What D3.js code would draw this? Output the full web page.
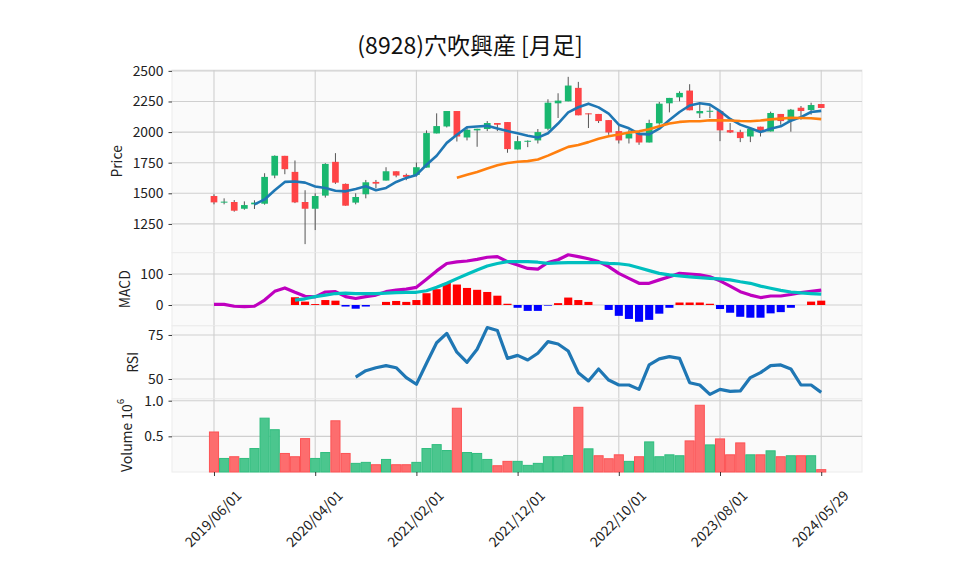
<!DOCTYPE html>
<html>
<head>
<meta charset="utf-8">
<script src="https://cdn.jsdelivr.net/npm/d3@7"></script>
<style>
body { margin: 0; background: #fff; }
text { font-family: "Noto Sans CJK JP", "Noto Sans", sans-serif; }
</style>
</head>
<body>
<svg id="chart" width="958" height="575"></svg>
<script>
// monthly bars, index 0 = 2019/06 ... index 60 = 2024/05/29
var opens  = [1478,1429,1429,1374,1410,1415,1645,1806,1675,1429,
              1374,1481,1757,1577,1424,1492,1593,1604,1680,1650,
              1650,1710,1989,2046,2172,1956,2014,2025,2074,2082,
              1858,1921,1932,2027,2235,2251,2361,2153,2148,2098,
              2008,1948,1989,1915,2071,2235,2284,2339,2153,2167,
              2172,2016,2000,1964,2044,2005,2148,2093,2199,2180,2229];
var highs  = [1492,1459,1445,1434,1443,1664,1810,1806,1768,1525,
              1500,1746,1828,1580,1500,1609,1609,1713,1680,1661,
              1751,2014,2153,2172,2172,2044,2027,2090,2074,2082,
              1967,1932,2025,2268,2317,2451,2410,2153,2148,2098,
              2060,2019,2003,2101,2246,2279,2333,2391,2238,2210,
              2172,2074,2019,2025,2044,2167,2148,2189,2213,2240,2229];
var lows   = [1410,1410,1350,1366,1372,1407,1623,1656,1420,1085,
              1200,1465,1577,1399,1410,1459,1541,1604,1631,1607,
              1637,1710,1989,2038,1923,1932,1880,2008,2008,1831,
              1858,1877,1907,2014,2115,2251,2137,2033,2074,1978,
              1907,1907,1896,1915,2060,2161,2251,2178,2115,2115,
              1926,1992,1918,1918,1964,2005,2060,2003,2101,2142,2197];
var closes = [1426,1432,1358,1404,1424,1634,1806,1697,1426,1374,
              1478,1740,1587,1399,1470,1590,1579,1680,1645,1634,
              1713,1992,2049,2172,1964,2019,2027,2074,2060,1861,
              1926,1929,2000,2240,2257,2380,2137,2145,2090,1997,
              1932,1989,1915,2074,2232,2279,2320,2178,2172,2174,
              2014,1997,1951,2025,2011,2156,2090,2183,2172,2221,2197];
// volume in millions of shares
var volumes = [0.561,0.190,0.214,0.190,0.329,0.755,0.593,0.260,0.214,0.468,
               0.190,0.273,0.718,0.260,0.121,0.135,0.102,0.176,0.102,0.102,
               0.135,0.329,0.384,0.301,0.894,0.273,0.260,0.176,0.088,0.149,
               0.149,0.093,0.121,0.214,0.214,0.232,0.907,0.325,0.228,0.186,
               0.241,0.149,0.214,0.422,0.214,0.241,0.228,0.436,0.936,0.380,
               0.464,0.241,0.408,0.241,0.241,0.297,0.214,0.228,0.228,0.228,0.033];
var ma5 = [null,null,null,null,1409,1450,1525,1593,1597,1587,
           1556,1543,1521,1516,1535,1557,1525,1544,1593,1626,
           1650,1733,1807,1912,1978,2039,2046,2051,2029,2008,
           1990,1970,1955,1991,2070,2161,2203,2232,2202,2150,
           2060,2031,1985,1981,2028,2098,2164,2217,2236,2224,
           2171,2107,2061,2032,2000,2028,2047,2093,2122,2164,2173];
var ma25 = [null,null,null,null,null,null,null,null,null,null,
            null,null,null,null,null,null,null,null,null,null,
            null,null,null,null,1627,1651,1674,1703,1729,1747,
            1758,1763,1776,1808,1843,1879,1895,1918,1945,1966,
            1980,1996,2006,2023,2047,2070,2083,2088,2088,2096,
            2096,2095,2090,2088,2094,2104,2110,2117,2115,2113,2106];
var macd = [2,2,-4,-5,-4,16,44,55,41,28,
            26,42,43,27,21,27,32,43,48,51,
            57,83,110,134,139,142,147,154,156,140,
            129,118,116,137,146,162,156,149,140,124,
            102,86,70,70,81,91,102,100,97,91,
            78,61,43,32,24,29,29,34,40,44,48];
var signal = [null,null,null,null,null,null,null,null,16,20,
              27,32,37,38,37,37,37,38,40,41,
              41,46,57,70,85,99,113,126,134,140,
              140,140,138,134,136,137,137,137,137,134,
              133,129,120,111,102,97,94,91,88,86,
              84,81,75,70,61,54,47,42,39,37,35];
var hist = [null,null,null,null,null,null,null,null,25,11,
            3,16,14,-5,-12,-5,0,10,13,10,
            16,38,51,71,66,55,49,42,30,4,
            -9,-19,-19,-2,6,24,16,10,0,-16,
            -35,-45,-54,-48,-28,-9,8,8,8,4,
            -13,-25,-38,-41,-41,-27,-23,-9,0,11,14];
var rsi = [null,null,null,null,null,null,null,null,null,null,
           null,null,null,null,51.1,54.7,56.4,57.6,56.4,50.8,
           47.0,58.9,70.6,75.9,65.2,59.5,66.9,79.2,77.5,61.7,
           63.4,60.8,64.6,71.2,69.9,65.9,53.6,48.9,55.7,49.4,
           46.6,46.6,44.1,58.0,61.4,62.7,61.7,47.9,46.6,41.3,
           44.1,43.0,43.2,50.8,53.6,57.6,58.0,55.7,46.6,46.6,42.4];
var tickIdx = [0, 10, 20, 30, 40, 50, 60];
var tickLabels = ["2019/06/01","2020/04/01","2021/02/01","2021/12/01","2022/10/01","2023/08/01","2024/05/29"];
var priceTicks = [1250, 1500, 1750, 2000, 2250, 2500];
var macdTicks = [0, 100];
var rsiTicks = [50, 75];
var volTicks = [0.5, 1.0];

var L = 172, R = 862;
var svg = d3.select("#chart");
var x = d3.scaleLinear().domain([-4.15, 64.03]).range([L, R]);
var step = x(1) - x(0);

var panels = [
  {top: 70,    bottom: 252.7, domain: [1015, 2507],   ticks: priceTicks, label: "Price", lx: 116},
  {top: 252.7, bottom: 325.8, domain: [-67.1, 168.7], ticks: macdTicks,  label: "MACD",  lx: 124},
  {top: 325.8, bottom: 398.9, domain: [38.7, 80.2],   ticks: rsiTicks,   label: "RSI",   lx: 132},
  {top: 398.9, bottom: 472,   domain: [0, 1.025],     ticks: volTicks,   label: "Volume", lx: 126}
];

panels.forEach(function(p, k) {
  p.y = d3.scaleLinear().domain(p.domain).range([p.bottom, p.top]);
  svg.append("rect")
    .attr("x", L).attr("y", p.top)
    .attr("width", R - L).attr("height", p.bottom - p.top)
    .attr("fill", "#fafafa")
    .attr("stroke", "#ececec");

  // grid
  svg.append("g").selectAll("line").data(p.ticks).enter().append("line")
    .attr("x1", L).attr("x2", R)
    .attr("y1", function(d) { return p.y(d); })
    .attr("y2", function(d) { return p.y(d); })
    .attr("stroke", "#cfcfcf").attr("stroke-width", 1.1);
  svg.append("g").selectAll("line").data(tickIdx).enter().append("line")
    .attr("x1", function(d) { return x(d); })
    .attr("x2", function(d) { return x(d); })
    .attr("y1", p.top).attr("y2", p.bottom)
    .attr("stroke", "#cfcfcf").attr("stroke-width", 1.1);

  // y axis
  var ax = svg.append("g")
    .attr("transform", "translate(" + L + ",0)")
    .call(d3.axisLeft(p.y).tickValues(p.ticks).tickSize(3.5).tickPadding(5)
      .tickFormat(k == 3 ? d3.format(".1f") : d3.format("d")));
  ax.select(".domain").remove();
  ax.selectAll("line").attr("stroke", "#222").attr("stroke-width", 0.9);
  ax.selectAll("text").attr("font-size", "13.9px").attr("fill", "#222")
    .style("font-family", '"Noto Sans CJK JP", sans-serif');

  // y label
  var cy = (p.top + p.bottom) / 2;
  var lab = svg.append("text")
    .attr("transform", "translate(" + p.lx + "," + cy + ") rotate(-90)")
    .attr("text-anchor", "middle")
    .attr("dominant-baseline", "central")
    .attr("font-size", "13.9px").attr("fill", "#222");
  if (k == 3) {
    lab.append("tspan").text("Volume  10");
    lab.append("tspan").attr("font-size", "9.7px").attr("dy", "-0.6em").text("6");
  } else {
    lab.text(p.label);
  }
});

var pp = panels[0], pm = panels[1], pr = panels[2], pv = panels[3];
var idx = d3.range(closes.length);

// candles
var upC = "#19b76f", dnC = "#fe4446";
var bw = step * 0.66;
var cg = svg.append("g");
cg.selectAll("line").data(idx).enter().append("line")
  .attr("x1", function(i) { return x(i); })
  .attr("x2", function(i) { return x(i); })
  .attr("y1", function(i) { return pp.y(highs[i]); })
  .attr("y2", function(i) { return pp.y(lows[i]); })
  .attr("stroke", "#555").attr("stroke-width", 1);
cg.selectAll("rect").data(idx).enter().append("rect")
  .attr("x", function(i) { return x(i) - bw / 2; })
  .attr("width", bw)
  .attr("y", function(i) { return pp.y(Math.max(opens[i], closes[i])); })
  .attr("height", function(i) { return Math.max(1, Math.abs(pp.y(opens[i]) - pp.y(closes[i]))); })
  .attr("fill", function(i) { return closes[i] >= opens[i] ? upC : dnC; });

// moving averages
function lineOn(yScale) {
  return d3.line()
    .defined(function(d) { return d != null; })
    .x(function(d, i) { return x(i); })
    .y(function(d) { return yScale(d); });
}
function drawLine(arr, yScale, color, w) {
  svg.append("path").datum(arr)
    .attr("d", lineOn(yScale))
    .attr("fill", "none")
    .attr("stroke", color)
    .attr("stroke-width", w)
    .attr("stroke-linejoin", "round");
}
drawLine(ma5, pp.y, "#1f77b4", 2.6);
drawLine(ma25, pp.y, "#ff7f0e", 2.6);

// MACD
var hw = step * 0.8;
svg.append("g").selectAll("rect").data(idx.filter(function(i) { return hist[i] != null; }))
  .enter().append("rect")
  .attr("x", function(i) { return x(i) - hw / 2; })
  .attr("width", hw)
  .attr("y", function(i) { return pm.y(Math.max(0, hist[i])); })
  .attr("height", function(i) { return Math.abs(pm.y(hist[i]) - pm.y(0)); })
  .attr("fill", function(i) { return hist[i] >= 0 ? "#ff0000" : "#0000ff"; });
drawLine(macd, pm.y, "#bf00bf", 3.2);
drawLine(signal, pm.y, "#00bfbf", 3.2);

// RSI
drawLine(rsi, pr.y, "#1f77b4", 3.2);

// volume: coloured by change from previous close
function volUp(i) { return i == 0 ? closes[0] >= opens[0] : closes[i] >= closes[i - 1]; }
var vw = step * 0.9;
svg.append("g").selectAll("rect").data(idx).enter().append("rect")
  .attr("x", function(i) { return x(i) - vw / 2; })
  .attr("width", vw)
  .attr("y", function(i) { return pv.y(volumes[i]); })
  .attr("height", function(i) { return pv.y(0) - pv.y(volumes[i]); })
  .attr("fill", function(i) { return volUp(i) ? "#4bc68e" : "#fd6d6e"; })
  .attr("stroke", function(i) { return volUp(i) ? "#2fbd7e" : "#fd5254"; })
  .attr("stroke-width", 1);

// x axis, labels centred under the tick and turned 45 degrees
var xa = svg.append("g")
  .attr("transform", "translate(0," + pv.bottom + ")")
  .call(d3.axisBottom(x).tickValues(tickIdx).tickSize(4)
    .tickFormat(function(d, i) { return tickLabels[i]; }));
xa.select(".domain").remove();
xa.selectAll("line").attr("stroke", "#222").attr("stroke-width", 0.9);
xa.selectAll("text")
  .attr("x", 0).attr("y", 0).attr("dy", 0)
  .attr("transform", "translate(-2,46) rotate(-45)")
  .attr("dominant-baseline", "central")
  .style("text-anchor", "middle")
  .style("font-family", '"Noto Sans CJK JP", sans-serif')
  .attr("font-size", "13.9px").attr("fill", "#222");

// title
svg.append("text")
  .attr("x", 470).attr("y", 54)
  .attr("text-anchor", "middle")
  .attr("font-size", "23px").attr("fill", "#111")
  .text("(8928)穴吹興産  [月足]");
</script>
</body>
</html>
